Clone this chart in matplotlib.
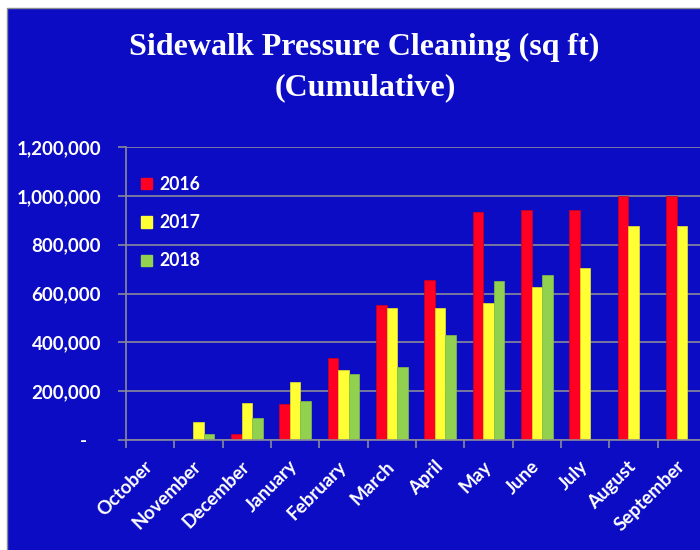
import matplotlib
matplotlib.use("Agg")
import matplotlib.pyplot as plt
import numpy as np
from matplotlib.patches import Rectangle, Patch
from matplotlib.ticker import FuncFormatter, FixedLocator

months = ["October", "November", "December", "January", "February", "March",
          "April", "May", "June", "July", "August", "September"]
s2016 = [0, 0, 23000, 147000, 337000, 553000, 657000, 934000, 941000, 941000, 1000000, 1000000]
s2017 = [0, 75000, 153000, 239000, 286000, 540000, 540000, 560000, 626000, 705000, 876000, 876000]
s2018 = [0, 23000, 89000, 160000, 270000, 298000, 429000, 652000, 677000, np.nan, np.nan, np.nan]
series_labels = ["2016", "2017", "2018"]
yticks = [0, 200000, 400000, 600000, 800000, 1000000, 1200000]

BLUE = "#0C0CC4"
RED = "#FF0022"
YELLOW = "#FFFF33"
GREEN = "#92D050"
GRID = "#8A8A9A"
W, H = 700, 550

fig = plt.figure(figsize=(7, 5.5), dpi=100, facecolor="white")
bg = Rectangle((7 / W, -0.01), 1.0, (H - 8) / H + 0.01, transform=fig.transFigure,
               facecolor=BLUE, edgecolor="#8C8C8C", lw=1.0, zorder=-10)
fig.patches.append(bg)

ax = fig.add_axes([126 / W, 110 / H, 580 / W, 293 / H])
ax.set_facecolor(BLUE)
ax.patch.set_alpha(0)

x = np.arange(len(months))
bw = 0.22
cols = [RED, YELLOW, GREEN]
edges = ["#D00018", "#E8E820", "#80C040"]
for i, (vals, c, ec) in enumerate(zip([s2016, s2017, s2018], cols, edges)):
    ax.bar(x + (i - 1) * bw, vals, width=bw, color=c, edgecolor=ec, lw=0.5,
           label=series_labels[i], zorder=3)

ax.set_xlim(-0.5, len(months) - 0.5)
ax.set_ylim(0, 1200000)
ax.set_yticks(yticks)
ax.yaxis.set_major_formatter(FuncFormatter(lambda v, p: "-   " if v == 0 else f"{int(v):,}"))
ax.grid(axis="y", color=GRID, lw=1.2, zorder=0)
ax.set_axisbelow(True)

for s in ["top", "right"]:
    ax.spines[s].set_visible(False)
for s in ["left", "bottom"]:
    ax.spines[s].set_color(GRID)
    ax.spines[s].set_linewidth(1.2)
    ax.spines[s].set_zorder(4)

lab_font = dict(family="Lato", weight="bold", size=13.5)
ax.tick_params(axis="y", colors=GRID, length=6, width=1.2, pad=12, labelcolor="white")
for t in ax.get_yticklabels():
    t.set_fontproperties(matplotlib.font_manager.FontProperties(**lab_font))

ax.set_xticks(x)
ax.set_xticklabels(months, rotation=45, ha="right", va="center", rotation_mode="anchor")
ax.tick_params(axis="x", which="major", length=0, pad=17, labelcolor="white")
for t in ax.get_xticklabels():
    t.set_fontproperties(matplotlib.font_manager.FontProperties(**lab_font))
ax.xaxis.set_minor_locator(FixedLocator(np.arange(-0.5, len(months), 1.0)))
ax.tick_params(axis="x", which="minor", length=6, width=1.2, color=GRID)

handles = [Patch(facecolor=c, edgecolor=c) for c in cols]
leg = ax.legend(handles, series_labels, loc="upper left", frameon=False,
                bbox_to_anchor=(141 / W, 1 - 176 / H), bbox_transform=fig.transFigure,
                borderpad=0, borderaxespad=0, handlelength=0.6, handleheight=0.6,
                handletextpad=0.45, labelspacing=1.2,
                prop=matplotlib.font_manager.FontProperties(family="Lato", weight="bold", size=12.7))
for t in leg.get_texts():
    t.set_color("white")

tfont = dict(family="Liberation Serif", weight="bold", size=23, color="white")
fig.text(364 / W, 1 - 55 / H, "Sidewalk Pressure Cleaning (sq ft)", ha="center", va="baseline", **tfont)
fig.text(365 / W, 1 - 95 / H, "(Cumulative)", ha="center", va="baseline", **tfont)

fig.savefig("out.png", dpi=100, facecolor=fig.get_facecolor())
